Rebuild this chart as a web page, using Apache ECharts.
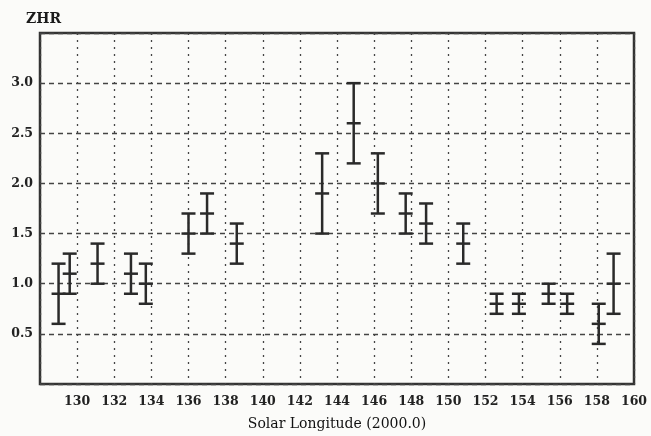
<!DOCTYPE html>
<html>
<head>
<meta charset="utf-8">
<script src="https://cdn.jsdelivr.net/npm/echarts@6/dist/echarts.min.js"></script>
<style>
html,body{margin:0;padding:0;background:#fbfbf9;}
#chart{width:651px;height:436px;}
</style>
</head>
<body>
<div id="chart"></div>
<script>
// Solar longitude (2000.0) of each ZHR estimate
var longitudes = [129.0, 129.6, 131.1, 132.9, 133.7, 136.0, 137.0, 138.6, 143.2, 144.9, 146.2, 147.7, 148.8, 150.8, 152.6, 153.8, 155.4, 156.4, 158.1, 158.9];
// ZHR central values
var zhr = [0.9, 1.1, 1.2, 1.1, 1.0, 1.5, 1.7, 1.4, 1.9, 2.6, 2.0, 1.7, 1.6, 1.4, 0.8, 0.8, 0.9, 0.8, 0.6, 1.0];
// lower error limits
var zhrLow = [0.6, 0.9, 1.0, 0.9, 0.8, 1.3, 1.5, 1.2, 1.5, 2.2, 1.7, 1.5, 1.4, 1.2, 0.7, 0.7, 0.8, 0.7, 0.4, 0.7];
// upper error limits
var zhrHigh = [1.2, 1.3, 1.4, 1.3, 1.2, 1.7, 1.9, 1.6, 2.3, 3.0, 2.3, 1.9, 1.8, 1.6, 0.9, 0.9, 1.0, 0.9, 0.8, 1.3];

var xTicks = [130, 132, 134, 136, 138, 140, 142, 144, 146, 148, 150, 152, 154, 156, 158, 160];
var yTicks = [0.5, 1.0, 1.5, 2.0, 2.5, 3.0];

var data = longitudes.map(function (x, i) { return [x, zhr[i], zhrLow[i], zhrHigh[i]]; });

var ink = '#2a2a2a';
var font = 'DejaVu Serif';

var chart = echarts.init(document.getElementById('chart'));
chart.setOption({
  backgroundColor: '#fbfbf9',
  animation: false,
  title: {
    text: 'ZHR', left: 21, top: 7,
    textStyle: { fontFamily: font, fontSize: 14, fontWeight: 'bold', color: '#1a1a1a' }
  },
  grid: {
    left: 40, right: 17, top: 33, bottom: 51,
    show: true, borderColor: '#333', borderWidth: 2.5, backgroundColor: 'transparent'
  },
  xAxis: {
    type: 'value', min: 128, max: 160, interval: 2,
    name: 'Solar Longitude (2000.0)', nameLocation: 'middle', nameGap: 33,
    nameTextStyle: { fontFamily: font, fontSize: 14, color: '#111' },
    axisLine: { show: false }, axisTick: { show: false },
    axisLabel: {
      fontFamily: font, fontSize: 12.5, fontWeight: 'bold', color: '#222', margin: 11,
      formatter: function (v) { return xTicks.indexOf(v) >= 0 ? String(v) : ''; }
    },
    splitLine: { show: true, lineStyle: { color: '#444', width: 1.3, type: [2, 5] } }
  },
  yAxis: {
    type: 'value', min: 0, max: 3.5, interval: 0.5,
    axisLine: { show: false }, axisTick: { show: false },
    axisLabel: {
      fontFamily: font, fontSize: 12.5, fontWeight: 'bold', color: '#222', margin: 7,
      formatter: function (v) {
        for (var i = 0; i < yTicks.length; i++) if (Math.abs(yTicks[i] - v) < 1e-9) return yTicks[i].toFixed(1);
        return '';
      }
    },
    splitLine: { show: true, lineStyle: { color: '#444', width: 1.3, type: [5, 4] } }
  },
  series: [{
    type: 'custom',
    data: data,
    encode: { x: 0, y: [1, 2, 3] },
    renderItem: function (params, api) {
      var x = api.value(0);
      var c = api.coord([x, api.value(1)]);
      var lo = api.coord([x, api.value(2)]);
      var hi = api.coord([x, api.value(3)]);
      var hw = 7;
      var st = { stroke: ink, lineWidth: 2.5 };
      return {
        type: 'group',
        children: [
          { type: 'line', shape: { x1: c[0], y1: lo[1], x2: c[0], y2: hi[1] }, style: st },
          { type: 'line', shape: { x1: c[0] - hw, y1: lo[1], x2: c[0] + hw, y2: lo[1] }, style: st },
          { type: 'line', shape: { x1: c[0] - hw, y1: hi[1], x2: c[0] + hw, y2: hi[1] }, style: st },
          { type: 'line', shape: { x1: c[0] - hw, y1: c[1], x2: c[0] + hw, y2: c[1] }, style: st }
        ]
      };
    }
  }]
});
</script>
</body>
</html>
